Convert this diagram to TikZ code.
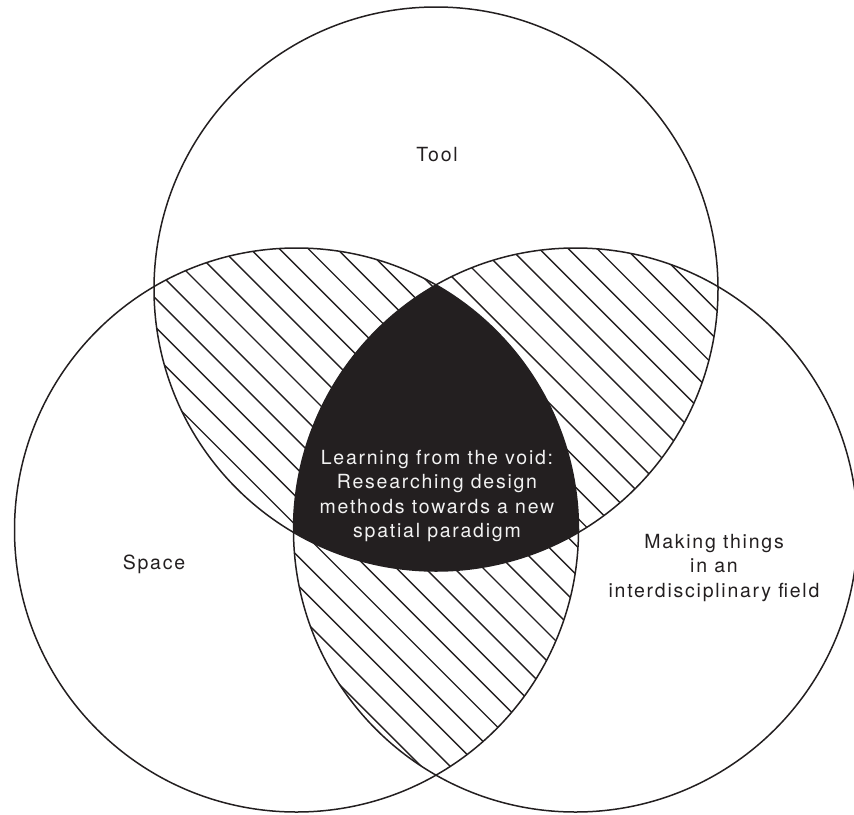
\documentclass[tikz,border=0pt]{standalone}
\usepackage{fontspec}
\setmainfont{TeX Gyre Heros}[LetterSpace=9]
\definecolor{ink}{HTML}{231F20}
\definecolor{paper}{HTML}{F2F2F2}
\begin{document}
\begin{tikzpicture}[x=1pt,y=-1pt,
  ring/.style={draw=ink,line width=1.5pt},
  hatchline/.style={draw=ink,line width=1.4pt},
  venntext/.style={font=\fontsize{19.5}{24.5}\selectfont, text=ink, align=center, inner sep=0pt}]
\useasboundingbox (0,0) rectangle (854,814);
\def\rad{282}
\coordinate (cT) at (436,289);
\coordinate (cL) at (296.5,530);
\coordinate (cR) at (575.5,530);
% hatching in each pairwise overlap
\foreach \A/\B in {cT/cL,cT/cR,cL/cR}{
  \begin{scope}
    \clip (\A) circle[radius=\rad];
    \clip (\B) circle[radius=\rad];
    \foreach \k in {-33,...,30}{
      \pgfmathsetmacro\c{-1.7+28.9*\k}
      \draw[hatchline] (-50,{-50+\c}) -- (900,{900+\c});
    }
  \end{scope}
}
% triple overlap
\begin{scope}
  \clip (cT) circle[radius=\rad];
  \clip (cL) circle[radius=\rad];
  \fill[ink] (cR) circle[radius=\rad];
\end{scope}
% circles
\draw[ring] (cT) circle[radius=\rad];
\draw[ring] (cL) circle[radius=\rad];
\draw[ring] (cR) circle[radius=\rad];
% texts
\node[venntext, anchor=base] (tool) at (437,161) {Tool};
\node[venntext, anchor=base] (space) at (154,569) {Space};
\node[venntext] (making) at (714,568) {Making things\\in an\\interdisciplinary field};
\node[venntext, text=paper] (core) at (437,496) {Learning from the void:\\Researching design\\methods towards a new\\spatial paradigm};
\end{tikzpicture}
\end{document}
